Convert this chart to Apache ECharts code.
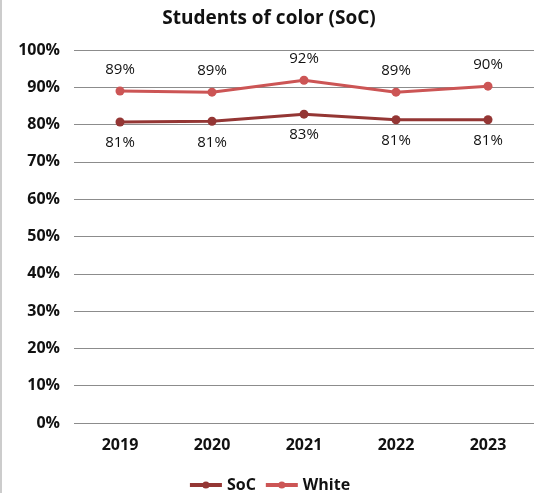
<!DOCTYPE html>
<html><head><meta charset="utf-8">
<script src="https://cdn.jsdelivr.net/npm/echarts@6/dist/echarts.min.js"></script>
<style>html,body{margin:0;padding:0;background:#fff;}#c{width:536px;height:493px;box-sizing:border-box;border-left:2px solid #ccc;}</style>
</head><body><div id="c"></div>
<script>
const categories = ['2019','2020','2021','2022','2023'];
const socValues = [80.7, 80.9, 82.8, 81.3, 81.3];
const whiteValues = [89.0, 88.7, 91.9, 88.7, 90.3];
const yTicks = [0,10,20,30,40,50,60,70,80,90,100];
const font = '"Open Sans", Roboto, sans-serif';
const chart = echarts.init(document.getElementById('c'));
chart.setOption({
  animation:false,
  title:{text:'Students of color (SoC)',left:'center',top:4,textStyle:{fontFamily:font,fontSize:19,fontWeight:'bold',color:'#111'}},
  grid:{left:72,right:2,top:50,bottom:70},
  legend:{top:472,left:'center',itemGap:8,itemWidth:32,itemHeight:9,lineStyle:{width:4},textStyle:{fontFamily:font,fontSize:16,color:'#111',fontWeight:'bold'},data:['SoC','White']},
  xAxis:{type:'category',data:categories,axisLine:{show:false},axisTick:{show:false},axisLabel:{fontFamily:font,fontSize:16,fontWeight:'bold',color:'#111',margin:14}},
  yAxis:{type:'value',min:0,max:100,interval:10,axisLine:{show:false},axisTick:{show:false},
    axisLabel:{fontFamily:font,fontSize:16,fontWeight:'bold',color:'#111',margin:14,formatter:v=>v+'%'},
    splitLine:{lineStyle:{color:'#8c8c8c',width:1}}},
  series:[
    {name:'SoC',type:'line',data:socValues,symbol:'circle',symbolSize:9,color:'#943634',lineStyle:{width:3,color:'#943634'},itemStyle:{color:'#943634'},
     label:{show:true,position:'bottom',distance:9,fontFamily:font,fontSize:15,color:'#111',formatter:p=>Math.round(p.value)+'%'}},
    {name:'White',type:'line',data:whiteValues,symbol:'circle',symbolSize:9,color:'#cc5555',lineStyle:{width:3,color:'#cc5555'},itemStyle:{color:'#cc5555'},
     label:{show:true,position:'top',distance:9,fontFamily:font,fontSize:15,color:'#111',formatter:p=>Math.round(p.value)+'%'}}
  ]
});
</script></body></html>
